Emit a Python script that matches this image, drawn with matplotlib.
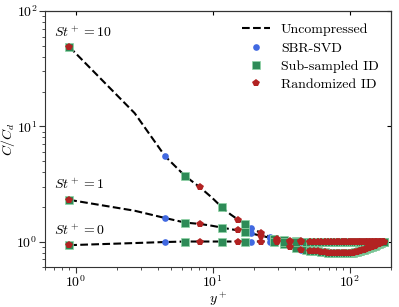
import matplotlib
matplotlib.use('Agg')
import matplotlib.pyplot as plt
from matplotlib.lines import Line2D
import numpy as np

plt.rcParams['font.family'] = 'serif'
plt.rcParams['font.serif'] = ['cmr10', 'DejaVu Serif']
plt.rcParams['mathtext.fontset'] = 'cm'
plt.rcParams['axes.formatter.use_mathtext'] = True
plt.rcParams['font.size'] = 10

# wall-normal positions (y+) of the grid points
y_plus = [0.9, 2.7, 4.5, 6.3, 8.1, 9.9, 11.7, 13.5, 15.3, 17.1,
          18.9, 20.7, 22.5, 24.3, 26.1, 27.9, 29.7, 31.5, 33.3, 35.1,
          36.9, 40.5, 44.1, 47.7, 51.3, 54.9, 58.5, 62.1, 65.7, 69.3,
          72.9, 76.5, 80.1, 83.7, 87.3, 90.9, 94.5, 98.1, 101.7, 105.3,
          108.9, 112.5, 116.1, 119.7, 123.3, 126.9, 130.5, 134.1, 137.7, 141.3,
          144.9, 148.5, 152.1, 155.7, 159.3, 162.9, 166.5, 170.1, 173.7, 177.3]

# C/Cd for the three Stokes numbers
c_st10 = [49, 13, 5.5, 3.7, 2.95, 2.4, 1.98, 1.72, 1.55, 1.43,
          1.32, 1.25, 1.19, 1.14, 1.10, 1.06, 1.02, 0.98, 0.95, 0.92,
          0.90, 0.87, 0.85, 0.84, 0.83, 0.82, 0.82, 0.81, 0.81, 0.80,
          0.80, 0.80, 0.79, 0.79, 0.79, 0.79, 0.79, 0.79, 0.80, 0.80,
          0.81, 0.81, 0.82, 0.83, 0.84, 0.85, 0.86, 0.87, 0.88, 0.89,
          0.90, 0.91, 0.92, 0.94, 0.95, 0.96, 0.97, 0.98, 0.99, 1.0]
c_st1 = [2.3, 1.85, 1.6, 1.46, 1.42, 1.37, 1.32, 1.28, 1.25, 1.22,
         1.18, 1.15, 1.12, 1.10, 1.08, 1.06, 1.05, 1.04, 1.03, 1.02,
         1.02, 1.01, 1.01, 1.0, 1.0, 1.0, 1.0, 1.0, 1.0, 1.0,
         1.0, 1.0, 1.0, 1.0, 1.0, 1.0, 1.0, 1.0, 1.0, 1.0,
         1.0, 1.0, 1.0, 1.0, 1.0, 1.0, 1.0, 1.0, 1.0, 1.0,
         1.0, 1.0, 1.0, 1.0, 1.0, 1.0, 1.0, 1.0, 1.0, 1.0]
c_st0 = [0.93, 0.97, 0.99, 1.0, 1.0, 1.0, 1.0, 1.0, 1.0, 1.0,
         1.0, 1.0, 1.0, 1.0, 1.0, 1.0, 1.0, 1.0, 1.0, 1.0,
         1.0, 1.0, 1.0, 1.0, 1.0, 1.0, 1.0, 1.0, 1.0, 1.0,
         1.0, 1.0, 1.0, 1.0, 1.0, 1.0, 1.0, 1.0, 1.0, 1.0,
         1.0, 1.0, 1.0, 1.0, 1.0, 1.0, 1.0, 1.0, 1.0, 1.0,
         1.0, 1.0, 1.0, 1.0, 1.0, 1.0, 1.0, 1.0, 1.0, 1.0]

# grid points picked by each compression method
svd_idx = [0, 2, 10, 14, 22, 59]
subid_idx = [0, 3, 6, 9, 15, 18, 21, 23] + list(range(24, 60))
rid_idx = [0, 4, 8, 12, 16, 20, 22] + list(range(24, 60))

labels = [r'$St^+ = 10$', r'$St^+ = 1$', r'$St^+ = 0$']
label_y = [65, 3.1, 1.25]

c_blue = '#4169e1'
c_green = '#2e8b57'
c_red = '#b22222'

yp = np.array(y_plus)
curves = [np.array(c_st10), np.array(c_st1), np.array(c_st0)]

fig = plt.figure(figsize=(3.99, 3.07), dpi=100)
ax = fig.add_axes([0.113, 0.130, 0.867, 0.834])

for c in curves:
    ax.plot(yp, c, 'k--', lw=1.5, zorder=2)
    ax.plot(yp[svd_idx], c[svd_idx], 'o', color=c_blue, ms=4.8, mew=0, zorder=3)
    ax.plot(yp[subid_idx], c[subid_idx], 's', color=c_green, ms=5.2,
            mec='#8fd4a6', mew=0.5, zorder=4)
    ax.plot(yp[rid_idx], c[rid_idx], 'p', color=c_red, ms=5.5, mew=0, zorder=5)

for lab, ly in zip(labels, label_y):
    ax.text(0.7, ly, lab, ha='left', va='center', fontsize=10)

ax.set_xscale('log')
ax.set_yscale('log')
ax.set_xlim(0.6, 200)
ax.set_ylim(0.6, 100)
ax.set_xlabel(r'$y^+$')
ax.set_ylabel(r'$C/C_d$')
ax.xaxis.set_label_coords(0.5, -0.088)
ax.yaxis.set_label_coords(-0.08, 0.5)

ax.tick_params(which='both', direction='out', color='#333333', pad=1.5)
ax.tick_params(which='major', length=4)
ax.tick_params(which='minor', length=2.5)
for s in ax.spines.values():
    s.set_color('#333333')

top = ax.secondary_xaxis('top')
top.tick_params(which='major', direction='in', length=3, labeltop=False)
top.tick_params(which='minor', length=0)
right = ax.secondary_yaxis('right')
right.tick_params(which='major', direction='in', length=3, labelright=False)
right.tick_params(which='minor', length=0)

handles = [
    Line2D([], [], color='k', ls='--', lw=1.5),
    Line2D([], [], color=c_blue, marker='o', ls='none', ms=4.8, mew=0),
    Line2D([], [], color=c_green, marker='s', ls='none', ms=5.2, mec='#8fd4a6', mew=0.5),
    Line2D([], [], color=c_red, marker='p', ls='none', ms=5.5, mew=0),
]
names = ['Uncompressed', 'SBR-SVD', 'Sub-sampled ID', 'Randomized ID']
ax.legend(handles, names, loc='upper right', frameon=False, labelspacing=0.4)

fig.savefig('out.png', dpi=100)
